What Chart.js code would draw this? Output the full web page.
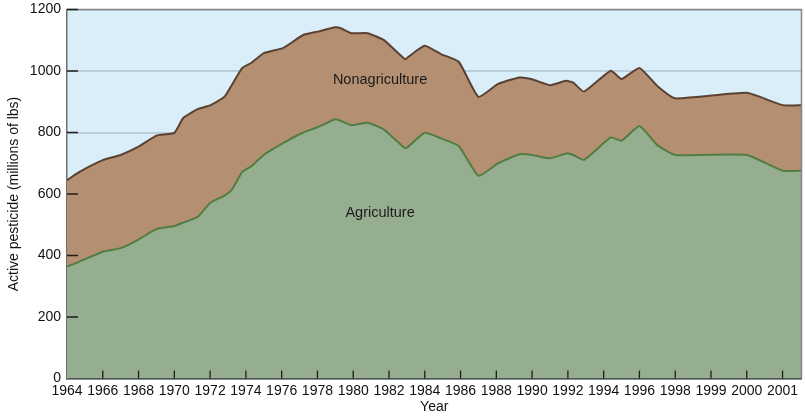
<!DOCTYPE html>
<html>
<head>
<meta charset="utf-8">
<script src="https://cdn.jsdelivr.net/npm/chart.js@4/dist/chart.umd.min.js"></script>
<style>
  html, body { margin: 0; padding: 0; background: #fff; }
  #wrap { width: 805px; height: 416px; }
</style>
</head>
<body>
<div id="wrap"><canvas id="canvas"></canvas></div>
<script>
	// axis tick labels (evenly spaced on the axis, even though the years are not)
	var tickLabels = ['1964', '1966', '1968', '1970', '1972', '1974', '1976', '1978', '1980', '1982',
		'1984', '1986', '1988', '1990', '1992', '1994', '1996', '1998', '1999', '2000', '2001'];

	// years of the read points
	var years = [1964, 1964.7, 1966, 1967, 1968, 1969, 1970, 1970.5, 1971.3, 1972, 1972.8, 1973.2,
		1973.8, 1974.3, 1975, 1976.1, 1977.2, 1978, 1979, 1979.3, 1979.9, 1980.8, 1981.7, 1982.9,
		1983.1, 1984, 1984.9, 1985.9, 1987, 1988.1, 1989.3, 1990, 1991, 1991.9, 1992.3, 1992.9,
		1994.4, 1995, 1996, 1997, 1998, 2000, 2001, 2001.6];

	// millions of lbs
	var agriculture = [364, 380, 412, 424, 452, 486, 496, 507, 525, 571, 595, 613,
		672, 690, 727, 766, 800, 817, 843, 838, 824, 832, 810, 749,
		755, 799, 781, 756, 659, 700, 729, 727, 716, 732, 727, 711,
		784, 773, 821, 759, 727, 727, 676, 676];
	var nonagriculture = [281, 292, 298, 303, 302, 304, 303, 340, 351, 317, 321, 340,
		338, 336, 331, 309, 317, 311, 299, 301, 299, 291, 291, 289,
		292, 283, 274, 274, 257, 258, 250, 246, 238, 236, 235, 222,
		217, 201, 189, 192, 184, 202, 213, 213];

	// the axis runs every 2 years up to 1998, then every year
	function axisPos(y) {
		return y <= 1998 ? (y - 1964) / 2 : 17 + (y - 1998);
	}
	function points(values) {
		var out = [];
		for (var i = 0; i < years.length; ++i) {
			out.push({x: axisPos(years[i]), y: values[i]});
		}
		return out;
	}

	var areaLabels = [
		{text: 'Nonagriculture', year: 1981.5, value: 971},
		{text: 'Agriculture', year: 1981.5, value: 538}
	];

	var font = 'Liberation Sans, Arial, Helvetica, sans-serif';

	var decor = {
		id: 'decor',
		beforeDraw: function(chart) {
			var a = chart.chartArea, ctx = chart.ctx;
			ctx.save();
			ctx.fillStyle = '#d9eef9';
			ctx.fillRect(a.left, a.top, a.right - a.left, a.bottom - a.top);
			ctx.restore();
		},
		afterDatasetsDraw: function(chart) {
			var a = chart.chartArea, ctx = chart.ctx;
			var xs = chart.scales.x, ys = chart.scales.y;
			ctx.save();
			// frame top and right
			ctx.strokeStyle = '#858585';
			ctx.lineWidth = 1.5;
			ctx.beginPath();
			ctx.moveTo(a.left, a.top);
			ctx.lineTo(a.right, a.top);
			ctx.lineTo(a.right, a.bottom);
			ctx.stroke();
			// inner tick marks
			ctx.strokeStyle = '#1e1e1e';
			ctx.lineWidth = 1.3;
			ctx.beginPath();
			for (var v = 200; v <= 1200; v += 200) {
				var py = ys.getPixelForValue(v);
				ctx.moveTo(a.left, py);
				ctx.lineTo(a.left + 11, py);
			}
			for (var i = 1; i < tickLabels.length; ++i) {
				var px = xs.getPixelForValue(i);
				ctx.moveTo(px, a.bottom);
				ctx.lineTo(px, a.bottom - 8);
			}
			ctx.stroke();
			// area names
			ctx.fillStyle = '#1b1b1b';
			ctx.font = '14.5px ' + font;
			ctx.textAlign = 'center';
			ctx.textBaseline = 'middle';
			areaLabels.forEach(function(l) {
				ctx.fillText(l.text, xs.getPixelForValue(axisPos(l.year)), ys.getPixelForValue(l.value));
			});
			ctx.restore();
		}
	};

	window.onload = function() {
		var ctx = document.getElementById('canvas').getContext('2d');
		window.myChart = new Chart(ctx, {
			type: 'line',
			data: {
				datasets: [{
					label: 'Agriculture',
					data: points(agriculture),
					borderColor: '#527d42',
					backgroundColor: '#96ae90',
					borderWidth: 2,
					fill: 'origin',
					pointRadius: 0,
					tension: 0.15
				}, {
					label: 'Nonagriculture',
					data: points(nonagriculture),
					borderColor: '#5a4131',
					backgroundColor: '#b48f71',
					borderWidth: 2,
					fill: '-1',
					pointRadius: 0,
					tension: 0.15
				}]
			},
			plugins: [decor],
			options: {
				responsive: true,
				maintainAspectRatio: false,
				animation: false,
				layout: {padding: {top: 9.5, right: 3.5, left: 0, bottom: 0}},
				plugins: {
					legend: {display: false},
					tooltip: {enabled: false}
				},
				scales: {
					x: {
						type: 'linear',
						min: 0,
						max: 20.53,
						afterFit: function(s) {
							s.height = 37.5;
							s.paddingLeft = 0;
							s.paddingRight = 0;
						},
						afterBuildTicks: function(s) {
							s.ticks = tickLabels.map(function(t, i) { return {value: i}; });
						},
						ticks: {
							autoSkip: false,
							maxRotation: 0,
							padding: 4,
							color: '#111',
							font: {family: font, size: 14},
							callback: function(v) { return tickLabels[v]; }
						},
						grid: {display: false, drawTicks: false},
						border: {display: true, color: '#4a4a4a', width: 1.5},
						title: {
							display: true,
							text: 'Year',
							color: '#111',
							font: {family: font, size: 14},
							padding: {top: 0, bottom: 0.5}
						}
					},
					y: {
						stacked: true,
						min: 0,
						max: 1200,
						afterFit: function(s) {
							s.width = 67;
							s.paddingTop = 0;
							s.paddingBottom = 0;
						},
						ticks: {
							stepSize: 200,
							padding: 6,
							color: '#111',
							font: {family: font, size: 14},
							callback: function(v) { return String(v); }
						},
						grid: {color: '#b9ced8', lineWidth: 2, drawTicks: false},
						border: {display: true, color: '#6f6f6f', width: 1.5},
						title: {
							display: true,
							text: 'Active pesticide (millions of lbs)',
							color: '#111',
							font: {family: font, size: 14},
							padding: {top: 6, bottom: 0}
						}
					}
				}
			}
		});
	};
</script>
</body>
</html>
